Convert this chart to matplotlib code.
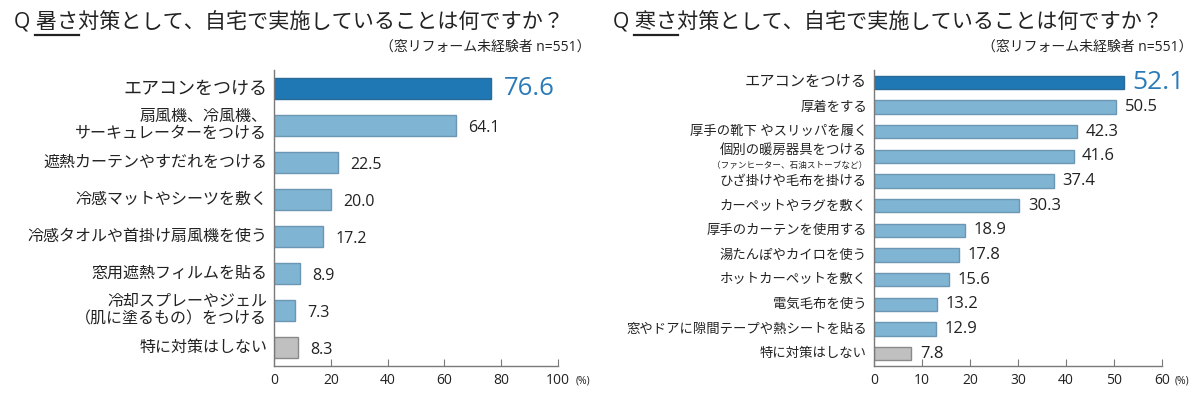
import matplotlib
matplotlib.use('Agg')
import matplotlib.pyplot as plt
from matplotlib.lines import Line2D
import numpy as np

# latin/digits from Open Sans, Japanese falls through to Noto Sans CJK JP
plt.rcParams['font.family'] = ['Open Sans', 'Noto Sans CJK JP', 'DejaVu Sans']

# data
hot_title = 'Q 暑さ対策として、自宅で実施していることは何ですか？'
cold_title = 'Q 寒さ対策として、自宅で実施していることは何ですか？'
sample_note = '（窓リフォーム未経験者 n=551）'

hot_labels = ['エアコンをつける', '扇風機、冷風機、\nサーキュレーターをつける', '遮熱カーテンやすだれをつける',
              '冷感マットやシーツを敷く', '冷感タオルや首掛け扇風機を使う', '窓用遮熱フィルムを貼る',
              '冷却スプレーやジェル\n（肌に塗るもの）をつける', '特に対策はしない']
hot_values = [76.6, 64.1, 22.5, 20.0, 17.2, 8.9, 7.3, 8.3]
hot_ticks = [0, 20, 40, 60, 80, 100]

cold_labels = ['エアコンをつける', '厚着をする', '厚手の靴下 やスリッパを履く', '個別の暖房器具をつける',
               'ひざ掛けや毛布を掛ける', 'カーペットやラグを敷く', '厚手のカーテンを使用する',
               '湯たんぽやカイロを使う', 'ホットカーペットを敷く', '電気毛布を使う',
               '窓やドアに隙間テープや熱シートを貼る', '特に対策はしない']
cold_note = '（ファンヒーター、石油ストーブなど）'
cold_values = [52.1, 50.5, 42.3, 41.6, 37.4, 30.3, 18.9, 17.8, 15.6, 13.2, 12.9, 7.8]
cold_ticks = [0, 10, 20, 30, 40, 50, 60]

DARK = '#1f78b4'
LIGHT = '#7fb4d3'
GRAY = '#c0c0c0'
TXT = '#222222'
AXC = '#7a7a7a'


def bar_colors(n):
    fills = [DARK] + [LIGHT] * (n - 2) + [GRAY]
    edges = ['#2a6a98'] + ['#6b97b5'] * (n - 2) + ['#8a8a8a']
    return fills, edges


def draw_panel(ax, labels, values, ticks, bar_h, lab_fs, first_fs, val_fs, big_fs, val_gap, val_dy, pct_dx):
    y = np.arange(len(values))
    fills, edges = bar_colors(len(values))
    ax.barh(y, values, height=bar_h, color=fills, edgecolor=edges, linewidth=1)
    ax.set_xlim(ticks[0], ticks[-1])
    ax.set_ylim(len(values) - 0.5, -0.5)
    ax.set_xticks(ticks)
    ax.set_yticks([])
    ax.tick_params(axis='x', direction='in', length=5, color=AXC, labelsize=10,
                   labelcolor=TXT, pad=5)
    for s in ['top', 'right']:
        ax.spines[s].set_visible(False)
    for s in ['left', 'bottom']:
        ax.spines[s].set_color(AXC)
        ax.spines[s].set_linewidth(1)
    ytr = ax.get_yaxis_transform()
    for i, (lab, v) in enumerate(zip(labels, values)):
        fs = first_fs if i == 0 else lab_fs
        if lab is not None:
            ax.annotate(lab, xy=(0, i), xycoords=ytr, xytext=(-5, 0), textcoords='offset points',
                        ha='right', va='center', fontsize=fs, color=TXT, linespacing=1.15)
        if i == 0:
            ax.annotate(f'{v:.1f}', xy=(v, i), xytext=(val_gap, 0), textcoords='offset points',
                        ha='left', va='center', fontsize=big_fs, color='#2b7bb9')
        else:
            ax.annotate(f'{v:.1f}', xy=(v, i), xytext=(val_gap, val_dy), textcoords='offset points',
                        ha='left', va='center', fontsize=val_fs, color=TXT)
    ax.annotate('(%)', xy=(1, 0), xycoords='axes fraction', xytext=(pct_dx, -10.5),
                textcoords='offset points', ha='left', va='center', fontsize=7.5, color=TXT)


def draw_title(fig, text, x0, y, fs):
    t = fig.text(x0, y, text, fontsize=fs, color=TXT, ha='left', va='center')
    fig.canvas.draw()
    r = fig.canvas.get_renderer()
    # underline the first two characters after "Q "
    pre = fig.text(x0, y, text[:2], fontsize=fs, ha='left', va='center')
    mid = fig.text(x0, y, text[:4], fontsize=fs, ha='left', va='center')
    w_pre = pre.get_window_extent(r).width
    w_mid = mid.get_window_extent(r).width
    pre.remove()
    mid.remove()
    W, H = fig.bbox.width, fig.bbox.height
    bb = t.get_window_extent(r)
    uy = (bb.y0 - 1) / H
    fig.add_artist(Line2D([x0 + (w_pre - 1) / W, x0 + (w_mid + 1) / W], [uy, uy],
                          color=TXT, linewidth=1.6, transform=fig.transFigure))


fig = plt.figure(figsize=(11.99, 3.96), dpi=100)
axL = fig.add_axes([274.3 / 1199, 30 / 396, 283.2 / 1199, 296 / 396])
axR = fig.add_axes([874 / 1199, 30 / 396, 288 / 1199, 296 / 396])

draw_panel(axL, hot_labels, hot_values, hot_ticks, 0.57, 11.5, 13, 11.5, 18.5, 9, -2, 13)

cold_main = [None if lab == '個別の暖房器具をつける' else lab for lab in cold_labels]
draw_panel(axR, cold_main, cold_values, cold_ticks, 0.55, 9.6, 11, 12, 19, 6, 0, 9)
k = cold_labels.index('個別の暖房器具をつける')
ytr = axR.get_yaxis_transform()
axR.annotate(cold_labels[k], xy=(0, k), xycoords=ytr, xytext=(-5, 3.5), textcoords='offset points',
             ha='right', va='center', fontsize=9.6, color=TXT)
axR.annotate(cold_note, xy=(0, k), xycoords=ytr, xytext=(-5, -6.5), textcoords='offset points',
             ha='right', va='center', fontsize=6.2, color=TXT)

draw_title(fig, hot_title, 14 / 1199, 1 - 23 / 396, 15.2)
draw_title(fig, cold_title, 613 / 1199, 1 - 23 / 396, 15.2)
fig.text(590 / 1199, 1 - 47 / 396, sample_note, fontsize=10, color=TXT, ha='right', va='center')
fig.text(1193 / 1199, 1 - 47 / 396, sample_note, fontsize=10, color=TXT, ha='right', va='center')

fig.savefig('out.png', dpi=100, facecolor='white')
